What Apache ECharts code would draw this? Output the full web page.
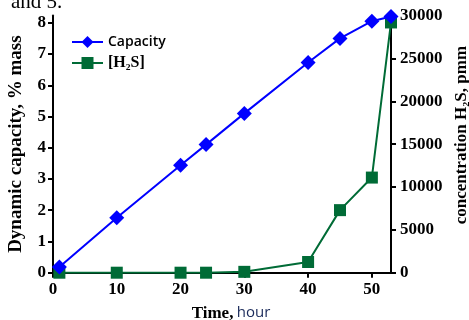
<!DOCTYPE html>
<html>
<head>
<meta charset="utf-8">
<script src="https://cdn.jsdelivr.net/npm/echarts@6/dist/echarts.min.js"></script>
<style>
  html, body { margin: 0; padding: 0; background: #fff; }
  #chart { width: 469px; height: 320px; }
</style>
</head>
<body>
<div id="chart"></div>
<script>
// time points, hours
const hours = [1, 10, 20, 24, 30, 40, 45, 50, 53]
// dynamic capacity, % mass
const capacity = [0.18, 1.76, 3.44, 4.1, 5.1, 6.73, 7.5, 8.05, 8.2]
// H2S concentration at outlet, ppm
const h2s = [0, 0, 0, 0, 100, 1250, 7300, 11100, 29200]

const xTicks = [0, 10, 20, 30, 40, 50]
const leftTicks = [0, 1, 2, 3, 4, 5, 6, 7, 8]
const rightTicks = [0, 5000, 10000, 15000, 20000, 25000, 30000]

const serif = '"Liberation Serif", "Times New Roman", serif'
const chart = echarts.init(document.getElementById('chart'))

const axisCommon = {
  axisLine: { show: true, lineStyle: { color: '#000', width: 2 } },
  splitLine: { show: false }
}

const labelStyle = { fontFamily: serif, fontWeight: 'bold', fontSize: 17, color: '#000' }

function ticks (values) {
  return { show: true, length: 5, lineStyle: { color: '#000', width: 2 }, customValues: values }
}

const option = {
  animation: false,
  title: {
    text: 'and 5.',
    left: 6,
    top: -13,
    textStyle: { fontFamily: serif, fontWeight: 'normal', fontSize: 21, color: '#000' }
  },
  legend: {
    orient: 'vertical',
    left: 66,
    top: 30,
    itemWidth: 31,
    itemHeight: 15,
    itemGap: 6,
    data: ['Capacity', '[H₂S]'],
    formatter: function (name) {
      return name === 'Capacity' ? '{a|' + name + '}' : '{b|' + name + '}'
    },
    textStyle: {
      rich: {
        a: { fontFamily: '"Open Sans", sans-serif', fontWeight: 600, fontSize: 14, color: '#000' },
        b: { fontFamily: serif, fontWeight: 'bold', fontSize: 16, color: '#000' }
      }
    }
  },
  grid: { left: 53, right: 78, top: 15.6, bottom: 47.3, outerBoundsMode: 'none', containLabel: false },
  xAxis: Object.assign({}, axisCommon, {
    type: 'value',
    min: 0,
    max: 53,
    name: '{a|Time,} {b|hour}',
    nameLocation: 'middle',
    nameGap: 32,
    nameTextStyle: {
      padding: [0, 0, 0, 18],
      rich: {
        a: { fontFamily: serif, fontWeight: 'bold', fontSize: 17, color: '#000' },
        b: { fontFamily: '"Open Sans", sans-serif', fontSize: 15, color: '#1a2a5a' }
      }
    },
    axisTick: ticks(xTicks),
    axisLabel: Object.assign({ customValues: xTicks, margin: 8 }, labelStyle)
  }),
  yAxis: [
    Object.assign({}, axisCommon, {
      type: 'value',
      min: 0,
      max: 8.23,
      name: 'Dynamic capacity, % mass',
      nameLocation: 'middle',
      nameGap: 27,
      nameTextStyle: { fontFamily: serif, fontWeight: 'bold', fontSize: 19, color: '#000' },
      axisTick: ticks(leftTicks),
      axisLabel: Object.assign({ customValues: leftTicks, margin: 7 }, labelStyle)
    }),
    Object.assign({}, axisCommon, {
      type: 'value',
      position: 'right',
      min: 0,
      max: 30000,
      name: 'concentration H₂S, pmm',
      nameLocation: 'middle',
      nameGap: 62,
      nameRotate: 90,
      nameTextStyle: { fontFamily: serif, fontWeight: 'bold', fontSize: 17, color: '#000', padding: [0, 0, 0, 18] },
      axisTick: ticks(rightTicks),
      axisLabel: Object.assign({ customValues: rightTicks, margin: 9, formatter: v => String(v) }, labelStyle)
    })
  ],
  series: [
    {
      name: '[H₂S]',
      type: 'line',
      yAxisIndex: 1,
      data: hours.map((h, i) => [h, h2s[i]]),
      symbol: 'rect',
      symbolSize: 12,
      lineStyle: { color: '#006b36', width: 2 },
      itemStyle: { color: '#006b36' },
      z: 2
    },
    {
      name: 'Capacity',
      type: 'line',
      yAxisIndex: 0,
      data: hours.map((h, i) => [h, capacity[i]]),
      symbol: 'diamond',
      symbolSize: 15,
      lineStyle: { color: '#0000ff', width: 2 },
      itemStyle: { color: '#0000ff' },
      z: 3
    }
  ]
}

chart.setOption(option)
</script>
</body>
</html>
